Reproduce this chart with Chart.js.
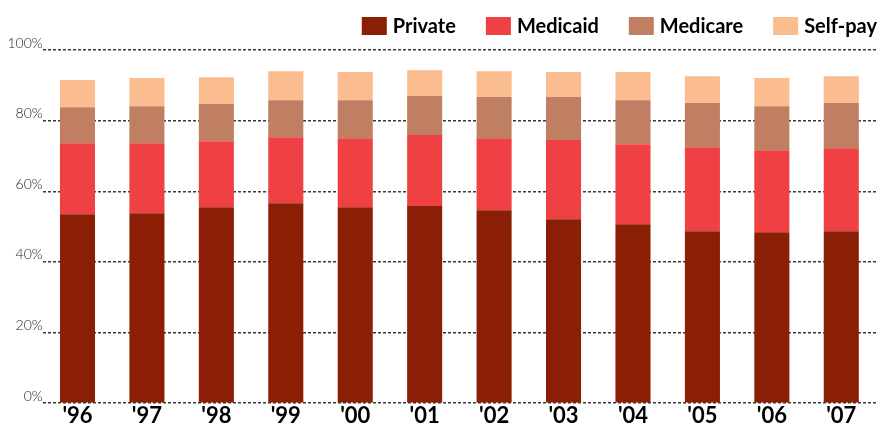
<!DOCTYPE html>
<html>
<head>
<meta charset="utf-8">
<script src="https://cdn.jsdelivr.net/npm/chart.js@4.4.1/dist/chart.umd.min.js"></script>
<style>
  html, body { margin: 0; padding: 0; background: #ffffff; }
  #wrap { width: 884px; height: 425px; position: relative; }
</style>
</head>
<body>
<div id="wrap"><canvas id="c"></canvas></div>
<script>
const categories = ["'96", "'97", "'98", "'99", "'00", "'01", "'02", "'03", "'04", "'05", "'06", "'07"];
const seriesNames = ["Private", "Medicaid", "Medicare", "Self-pay"];
const privateVals  = [53.5, 53.8, 55.5, 56.6, 55.5, 55.8, 54.6, 52.1, 50.7, 48.7, 48.4, 48.7];
const medicaidVals = [20.1, 19.8, 18.7, 18.7, 19.5, 20.1, 20.4, 22.4, 22.6, 23.8, 23.2, 23.5];
const medicareVals = [10.2, 10.5, 10.5, 10.5, 10.8, 11.1, 11.7, 12.2, 12.5, 12.5, 12.5, 12.8];
const selfPayVals  = [7.7, 8.0, 7.6, 8.2, 8.0, 7.3, 7.3, 7.1, 8.0, 7.6, 8.0, 7.6];
const yTicks = [0, 20, 40, 60, 80, 100];

const colors = ["#8B1F05", "#EF4044", "#C07F62", "#FBBC8F"];
const FONT = "Lato, 'Open Sans', sans-serif";

const customLegend = {
  id: 'customLegend',
  afterDraw(chart) {
    const ctx = chart.ctx;
    const ds = chart.data.datasets;
    ctx.save();
    ctx.font = "bold 20px " + FONT;
    ctx.textBaseline = 'middle';
    ctx.textAlign = 'left';
    const boxW = 25, boxH = 18, gapBT = 6, gapItem = 30, boxTop = 17;
    const widths = ds.map(d => boxW + gapBT + ctx.measureText(d.label).width);
    let total = widths.reduce((a, b) => a + b, 0) + gapItem * (ds.length - 1);
    let x = 877 - total;
    ds.forEach((d, i) => {
      ctx.fillStyle = d.backgroundColor;
      ctx.fillRect(x, boxTop, boxW, boxH);
      ctx.fillStyle = '#000';
      ctx.fillText(d.label, x + boxW + gapBT, boxTop + boxH / 2 + 1);
      x += widths[i] + gapItem;
    });
    ctx.restore();
  }
};

const valueSets = [privateVals, medicaidVals, medicareVals, selfPayVals];

new Chart(document.getElementById('c'), {
  type: 'bar',
  data: {
    labels: categories,
    datasets: seriesNames.map((name, i) => ({
      label: name,
      data: valueSets[i],
      backgroundColor: colors[i],
      borderWidth: 0,
      barPercentage: 0.505,
      categoryPercentage: 1.0
    }))
  },
  options: {
    responsive: true,
    maintainAspectRatio: false,
    animation: false,
    layout: { padding: { top: 50, left: 7.5, right: 8, bottom: -4 } },
    plugins: {
      legend: { display: false },
      tooltip: { enabled: false }
    },
    scales: {
      x: {
        stacked: true,
        grid: { display: false, drawTicks: false },
        border: { display: false },
        ticks: {
          color: '#000',
          padding: 3,
          font: { family: FONT, size: 22, weight: 'bold', lineHeight: 0.9 }
        }
      },
      y: {
        stacked: true,
        min: 0,
        max: 100,
        afterBuildTicks(scale) { scale.ticks = yTicks.map(v => ({ value: v })); },
        grid: { color: '#3a3a3a', lineWidth: 1.5, drawTicks: false },
        border: { display: false, dash: [3, 2] },
        ticks: {
          color: '#222',
          padding: 0,
          labelOffset: -7,
          font: { family: FONT, size: 14, weight: '300' },
          callback: v => v + '%'
        }
      }
    }
  },
  plugins: [customLegend]
});
</script>
</body>
</html>
